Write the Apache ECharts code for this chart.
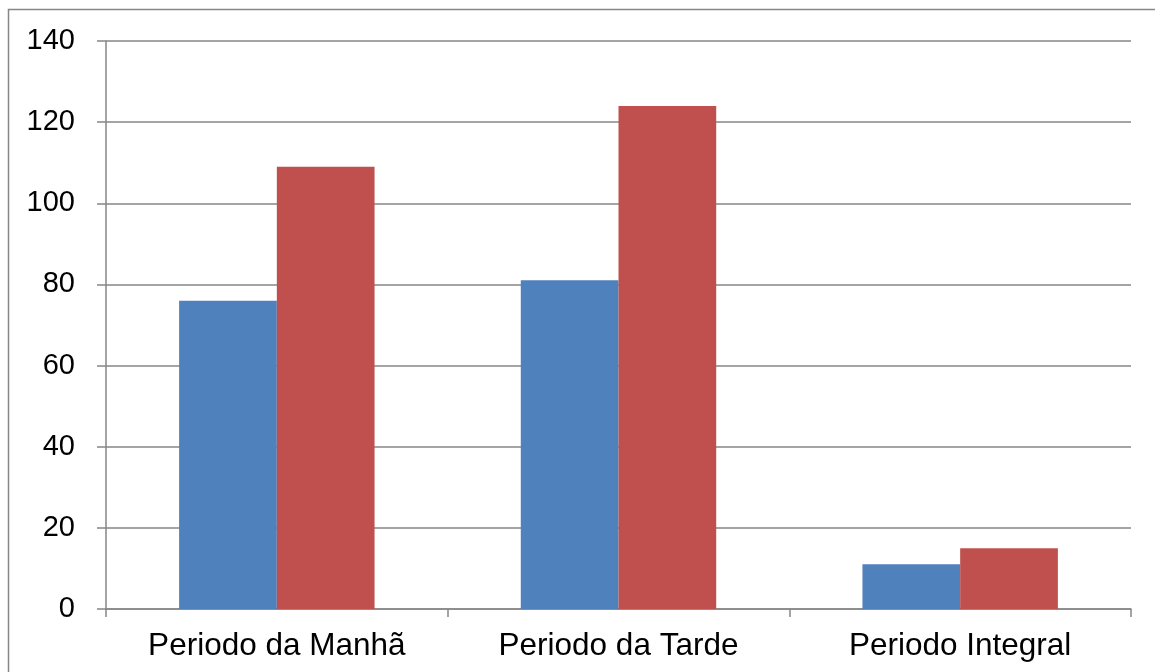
<!DOCTYPE html>
<html>
<head>
<meta charset="utf-8">
<script src="https://cdn.jsdelivr.net/npm/echarts@6/dist/echarts.min.js"></script>
<style>
  html, body { margin: 0; padding: 0; background: #fff; }
  #chart { width: 1155px; height: 672px; }
</style>
</head>
<body>
<div id="chart"></div>
<script>
// Categories and values for the two series
const categories = ['Periodo da Manhã', 'Periodo da Tarde', 'Periodo Integral'];
const seriesA = [76, 81, 11];
const seriesB = [109, 124, 15];
const yTicks = { min: 0, max: 140, interval: 20 };

const axisGray = '#868686';
const fontFamily = 'Liberation Sans, Arial, sans-serif';

const chart = echarts.init(document.getElementById('chart'), null, { renderer: 'canvas' });
chart.setOption({
  animation: false,
  graphic: [{
    type: 'rect',
    shape: { x: 8.5, y: 9.5, width: 1200, height: 700 },
    style: { fill: 'none', stroke: axisGray, lineWidth: 1.5 },
    silent: true,
    z: -1
  }],
  grid: { left: 106, right: 24, top: 41, bottom: 63 },
  xAxis: {
    type: 'category',
    data: categories,
    axisLine: { lineStyle: { color: axisGray, width: 1.5 } },
    axisTick: { show: true, length: 8, lineStyle: { color: axisGray, width: 1.5 } },
    axisLabel: { margin: 21, fontFamily: fontFamily, fontSize: 31.5, color: '#000' }
  },
  yAxis: {
    type: 'value',
    min: yTicks.min, max: yTicks.max, interval: yTicks.interval,
    axisLine: { show: true, lineStyle: { color: axisGray, width: 1.5 } },
    axisTick: { show: true, length: 9, lineStyle: { color: axisGray, width: 1.5 } },
    splitLine: { lineStyle: { color: axisGray, width: 1.5 } },
    axisLabel: { margin: 31, fontFamily: fontFamily, fontSize: 29, color: '#000' }
  },
  series: [
    { type: 'bar', data: seriesA, barWidth: '28.6%', barGap: '0%', itemStyle: { color: '#4F81BD' } },
    { type: 'bar', data: seriesB, barWidth: '28.6%', barGap: '0%', itemStyle: { color: '#C0504D' } }
  ]
});
</script>
</body>
</html>
